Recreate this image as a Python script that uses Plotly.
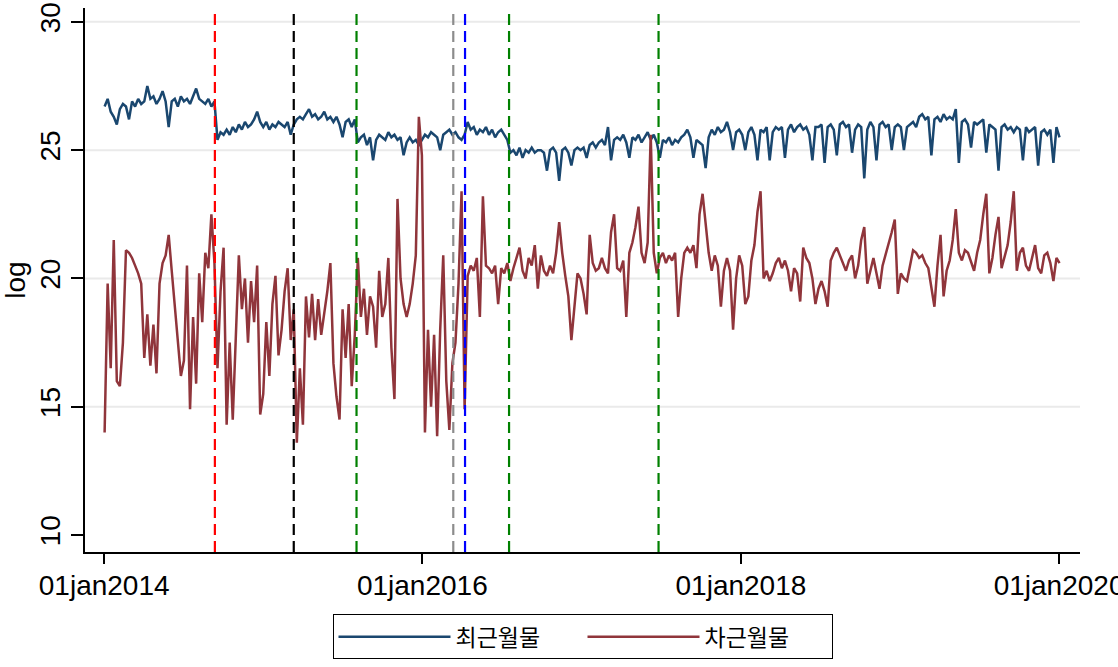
import pandas as pd
import plotly.graph_objects as go

# weekly observations starting 2014-01-02 (one value per week)
start_date = "2014-01-02"

near_month = [  # 최근월물
    26.7, 27.0, 26.5, 26.3, 26.0, 26.6, 26.8, 26.7, 26.2, 26.9, 26.7, 27.0, 26.8,
    26.9, 27.5, 27.0, 27.1, 26.8, 27.0, 27.3, 26.9, 25.9, 26.9, 27.0, 26.7, 27.1,
    26.9, 27.0, 26.8, 27.1, 27.4, 27.0, 26.9, 26.8, 27.0, 26.7, 26.9, 25.4, 25.7,
    25.6, 25.8, 25.6, 25.9, 25.7, 26.0, 25.8, 26.1, 25.9, 26.0, 26.2, 26.5, 26.1,
    25.9, 26.1, 25.8, 26.0, 25.9, 26.1, 26.0, 25.9, 26.1, 25.6, 26.0, 26.2, 26.3,
    26.2, 26.4, 26.6, 26.3, 26.4, 26.2, 26.3, 26.5, 26.2, 26.3, 26.1, 26.3, 26.0,
    25.5, 26.1, 26.2, 25.9, 26.2, 25.3, 25.5, 25.6, 25.2, 25.5, 24.6, 25.4, 25.6,
    25.5, 25.4, 25.7, 25.5, 25.6, 25.4, 25.5, 24.8, 25.3, 25.5, 25.3, 25.4, 25.2,
    25.4, 25.6, 25.5, 25.7, 25.6, 25.5, 25.0, 25.6, 25.7, 25.8, 25.6, 25.7, 25.5,
    25.4, 25.6, 26.1, 25.8, 25.9, 25.6, 25.8, 25.7, 25.9, 25.6, 25.8, 25.5, 25.7,
    25.8, 25.6, 25.4, 24.9, 25.0, 24.8, 25.1, 24.7, 25.0, 24.9, 25.1, 24.9, 25.0,
    25.0, 24.9, 24.2, 25.0, 25.1, 24.9, 23.8, 25.0, 25.1, 24.9, 24.4, 25.0, 25.1,
    25.0, 25.1, 24.7, 25.2, 25.3, 25.1, 25.3, 25.4, 25.2, 25.9, 24.6, 25.4, 25.5,
    25.4, 25.6, 25.3, 24.7, 25.5, 25.4, 25.6, 25.3, 25.5, 25.7, 25.4, 25.6, 25.3,
    24.7, 25.4, 25.3, 25.5, 25.2, 25.4, 25.3, 25.5, 25.6, 25.8, 25.5, 24.7, 25.4,
    25.3, 25.2, 24.3, 25.5, 25.8, 25.6, 25.9, 25.7, 25.8, 26.1, 25.7, 25.0, 25.7,
    25.8, 25.6, 25.0, 25.7, 25.9, 25.6, 24.6, 25.8, 25.7, 25.9, 24.6, 25.7, 25.9,
    25.8, 25.9, 24.7, 25.8, 26.0, 25.7, 25.9, 26.0, 25.8, 25.9, 25.6, 24.6, 25.9,
    25.9, 26.0, 24.5, 25.9, 26.0, 25.8, 24.8, 26.0, 26.1, 25.9, 26.0, 24.9, 25.8,
    26.0, 25.9, 23.9, 25.8, 26.1, 25.9, 24.6, 26.0, 26.1, 25.9, 26.0, 25.0, 25.9,
    26.0, 25.9, 25.0, 25.9, 26.0, 26.1, 25.9, 26.3, 26.4, 26.2, 26.3, 24.8, 26.2,
    26.3, 26.1, 26.4, 26.2, 26.3, 26.2, 26.6, 24.5, 26.1, 26.2, 26.0, 25.1, 26.1,
    26.0, 26.1, 26.2, 24.9, 26.0, 25.9, 25.8, 24.2, 25.9, 26.0, 25.8, 25.9, 25.7,
    25.9, 25.8, 24.6, 25.9, 25.7, 25.8, 25.9, 24.4, 25.7, 25.8, 25.6, 25.8, 24.5,
    25.9, 25.5,
]

next_month = [  # 차근월물
    14.0, 19.8, 16.5, 21.5, 16.0, 15.8, 17.5, 21.1, 21.0, 20.8, 20.5, 20.2, 19.8,
    16.9, 18.6, 16.6, 18.2, 16.3, 19.8, 20.6, 20.9, 21.7, 20.3, 18.9, 17.4, 16.2,
    16.8, 20.5, 14.9, 18.5, 15.9, 20.2, 18.3, 21.0, 20.4, 22.5, 20.6, 16.5, 19.5,
    21.2, 14.3, 17.5, 14.5, 18.0, 20.9, 18.8, 20.0, 17.5, 19.9, 18.3, 20.5, 14.7,
    15.5, 18.3, 16.2, 19.0, 20.1, 17.0, 18.0, 19.5, 20.4, 17.6, 18.8, 13.6, 16.5,
    14.3, 19.3, 17.7, 19.4, 17.6, 19.2, 17.8, 18.6, 19.5, 20.6, 16.7, 15.4, 14.5,
    18.8, 16.9, 19.0, 15.8, 17.8, 20.8, 18.5, 19.6, 17.8, 19.3, 18.9, 17.3, 20.3,
    18.5, 19.0, 20.8, 17.3, 15.3, 23.1, 20.0, 19.0, 18.5, 19.0, 19.8, 20.9, 26.3,
    24.8, 14.0, 18.0, 15.0, 17.8, 13.85, 18.0, 20.9, 16.0, 14.1, 16.7, 17.5, 19.8,
    23.4, 14.9, 20.1, 20.5, 20.3, 20.8, 18.5, 23.2, 20.5, 20.4, 20.2, 20.5, 19.0,
    20.4, 20.2, 20.6, 19.9, 20.4, 20.8, 21.2, 20.3, 20.0, 20.8, 20.5, 21.3, 19.6,
    20.9, 20.3, 20.1, 20.5, 20.2, 21.0, 22.2, 21.0, 20.1, 19.3, 17.6, 19.0, 20.2,
    20.0, 19.4, 18.6, 21.7, 20.6, 20.3, 20.4, 20.8, 20.4, 20.2, 21.8, 22.5, 20.4,
    20.3, 20.7, 18.5, 21.0, 21.4, 22.0, 22.8, 21.0, 20.6, 21.4, 25.6, 21.0, 20.2,
    20.8, 21.0, 20.6, 20.9, 20.7, 21.0, 18.5, 20.0, 21.0, 21.2, 21.0, 21.3, 20.4,
    22.5, 23.3, 22.2, 21.0, 20.3, 20.9, 20.5, 18.9, 20.3, 20.8, 20.3, 18.0, 20.0,
    20.9, 20.5, 19.0, 19.3, 20.7, 21.3, 22.6, 23.4, 20.0, 20.3, 19.9, 20.2, 20.6,
    20.8, 20.4, 20.7, 20.3, 19.5, 20.4, 20.2, 19.1, 21.2, 20.8, 20.6, 20.0, 19.0,
    19.6, 19.9, 19.5, 18.9, 20.7, 21.0, 21.2, 20.9, 20.6, 20.3, 20.7, 20.9, 20.0,
    20.5, 21.5, 22.0, 19.8, 20.3, 20.8, 20.2, 19.6, 20.5, 20.9, 21.3, 21.8, 22.3,
    19.4, 20.2, 20.0, 19.9, 20.5, 21.1, 21.0, 20.8, 20.9, 20.6, 20.4, 19.6, 18.9,
    20.5, 21.7, 19.3, 20.3, 20.7, 21.5, 22.7, 21.0, 20.7, 21.1, 21.0, 20.6, 20.3,
    21.0, 21.5, 22.5, 23.3, 20.2, 20.8, 21.7, 22.4, 20.4, 20.9, 21.3, 22.2, 23.4,
    20.3, 21.0, 21.2, 20.5, 20.3, 20.8, 21.3, 20.4, 20.2, 20.9, 21.0, 20.6, 19.9,
    20.8, 20.6,
]

series_names = ["최근월물", "차근월물"]
series_colors = ["#1a476f", "#90353b"]

event_dates = ["2014-09-12", "2015-03-12", "2015-08-03", "2016-03-12",
               "2016-04-08", "2016-07-18", "2017-06-26"]
event_colors = ["#ff0000", "#000000", "#008000", "#8c8c8c",
                "#0000ff", "#008000", "#008000"]

x_tick_dates = ["2014-01-01", "2016-01-01", "2018-01-01", "2020-01-01"]
x_tick_labels = ["01jan2014", "01jan2016", "01jan2018", "01jan2020"]
y_ticks = [10, 15, 20, 25, 30]
grid_values = [15, 20, 25, 30]

dates = pd.date_range(start_date, periods=len(near_month), freq="7D")

tick_font = dict(family="Liberation Sans Narrow, Arial Narrow, Liberation Sans, Arial",
                 size=28, color="#000000")

fig = go.Figure()
for name, vals, col in zip(series_names, [near_month, next_month], series_colors):
    fig.add_trace(go.Scatter(x=dates, y=vals, mode="lines", name=name,
                             line=dict(color=col, width=2.5)))

shapes = []
for g in grid_values:
    shapes.append(dict(type="line", xref="paper", x0=0, x1=1, yref="y", y0=g, y1=g,
                       line=dict(color="#eaeaea", width=2), layer="below"))
for d, c in zip(event_dates, event_colors):
    shapes.append(dict(type="line", xref="x", x0=d, x1=d, yref="paper", y0=0, y1=1,
                       line=dict(color=c, width=2.2, dash="11px,6px"), layer="above"))

fig.update_layout(
    width=1118, height=667,
    margin=dict(l=85, r=38, t=8, b=110),
    paper_bgcolor="white", plot_bgcolor="white",
    shapes=shapes,
    showlegend=True,
    legend=dict(orientation="h", x=0.5, xanchor="center", y=-0.1145, yanchor="top",
                bordercolor="#000000", borderwidth=1,
                font=dict(family="Noto Sans CJK KR", size=23, color="#000000"),
                itemwidth=112, entrywidth=122, traceorder="normal"),
    xaxis=dict(range=["2013-11-18", "2020-02-18"], tickvals=x_tick_dates,
               ticktext=x_tick_labels, ticks="outside", ticklen=10, tickwidth=1.5,
               tickcolor="#000000", showline=True, linecolor="#000000", linewidth=1.5,
               showgrid=False, zeroline=False, tickfont=tick_font, automargin=False,
               ticklabelstandoff=-2, ticklabeloverflow="allow"),
    yaxis=dict(range=[9.34, 30.54], tickvals=y_ticks, ticks="outside", ticklen=12,
               tickwidth=1.5, tickcolor="#000000", tickangle=-90,
               showline=True, linecolor="#000000", linewidth=1.5,
               showgrid=False, zeroline=False, tickfont=tick_font, automargin=False,
               title=dict(text="log", font=tick_font, standoff=8)),
)

fig.write_html("out.html", config={"displayModeBar": False},
               post_script="document.body.style.margin='0px';")
